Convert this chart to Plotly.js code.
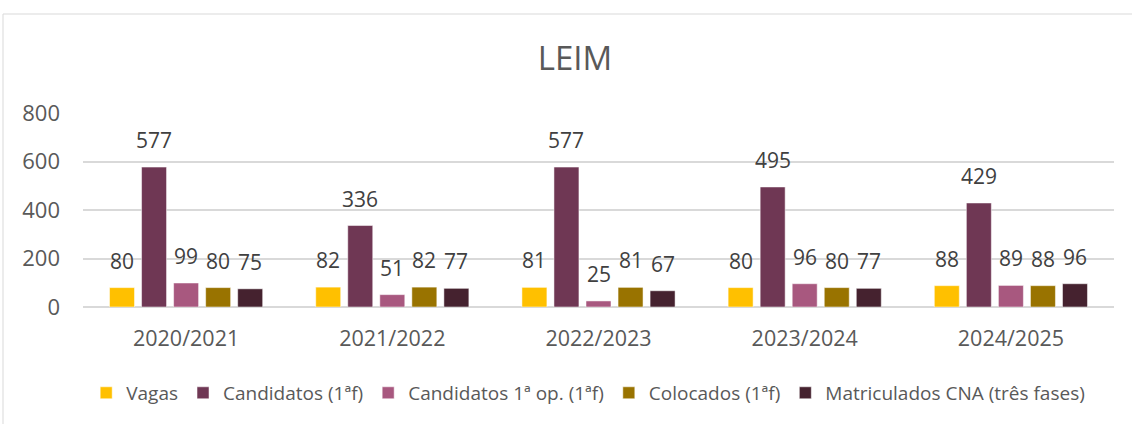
<!DOCTYPE html>
<html>
<head>
<meta charset="utf-8">
<script src="https://cdn.plot.ly/plotly-3.0.1.min.js"></script>
<style>html,body{margin:0;padding:0;background:#fff;}#chart{width:1132px;height:424px;}</style>
</head>
<body>
<div id="chart"></div>
<script>
const categories = ["2020/2021", "2021/2022", "2022/2023", "2023/2024", "2024/2025"];
const seriesNames = ["Vagas", "Candidatos (1ªf)", "Candidatos 1ª op. (1ªf)", "Colocados (1ªf)", "Matriculados CNA (três fases)"];
const vagas = [80, 82, 81, 80, 88];
const candidatos = [577, 336, 577, 495, 429];
const candidatos1op = [99, 51, 25, 96, 89];
const colocados = [80, 82, 81, 80, 88];
const matriculados = [75, 77, 67, 77, 96];
const yTicks = [0, 200, 400, 600, 800];

const seriesValues = [vagas, candidatos, candidatos1op, colocados, matriculados];
const colors = ["#FFC000", "#6F3754", "#A8587F", "#997300", "#45222F"];
const FONT = "'Open Sans', sans-serif";
const bargap = 0.223;

const traces = seriesValues.map((vals, j) => ({
  type: "bar",
  name: seriesNames[j],
  x: categories,
  y: vals,
  marker: { color: colors[j], line: { color: "rgba(255,255,255,0.5)", width: 1 } },
  hoverinfo: "skip"
}));

const n = seriesValues.length;
const slot = (1 - bargap) / n;
const annotations = [];
seriesValues.forEach((vals, j) => {
  vals.forEach((v, i) => {
    annotations.push({
      x: i + (j - (n - 1) / 2) * slot,
      y: v,
      xref: "x", yref: "y",
      text: String(v),
      showarrow: false,
      yanchor: "bottom",
      yshift: 11,
      font: { family: FONT, size: 21, color: "#404040" }
    });
  });
});

const layout = {
  width: 1132, height: 424,
  margin: { l: 83, r: 18, t: 113, b: 117, autoexpand: false },
  paper_bgcolor: "#ffffff",
  plot_bgcolor: "#ffffff",
  font: { family: FONT, color: "#595959" },
  title: {
    text: "LEIM",
    font: { family: FONT, size: 33, color: "#595959" },
    x: 0.508, xanchor: "center",
    y: 0.862, yanchor: "middle"
  },
  barmode: "group",
  bargap: bargap,
  bargroupgap: 0.22,
  showlegend: true,
  legend: {
    orientation: "h",
    x: 0.49, xanchor: "center",
    y: -0.443, yanchor: "middle",
    font: { family: FONT, size: 19, color: "#595959" },
    itemwidth: 30,
    tracegroupgap: 0
  },
  xaxis: {
    type: "category",
    showgrid: false,
    showline: false,
    ticks: "",
    tickfont: { family: FONT, size: 21.5, color: "#595959" },
    ticklabelstandoff: 16,
    fixedrange: true
  },
  yaxis: {
    range: [0, 800],
    tickvals: yTicks,
    ticktext: yTicks.map(String),
    showgrid: true,
    gridcolor: "#D9D9D9",
    gridwidth: 2,
    zeroline: true,
    zerolinecolor: "#D9D9D9",
    zerolinewidth: 2,
    showline: false,
    ticks: "",
    tickfont: { family: FONT, size: 22, color: "#595959" },
    ticklabelstandoff: 22,
    fixedrange: true
  },
  annotations: annotations,
  shapes: [{
    type: "rect",
    xref: "paper", yref: "paper",
    x0: (3 - 83) / 1031, x1: (1140 - 83) / 1031,
    y0: -1, y1: (307 - 14) / 194,
    line: { color: "#D9D9D9", width: 1 },
    fillcolor: "rgba(0,0,0,0)",
    layer: "below"
  }]
};

Plotly.newPlot("chart", traces, layout, { staticPlot: true, displayModeBar: false });
</script>
</body>
</html>
